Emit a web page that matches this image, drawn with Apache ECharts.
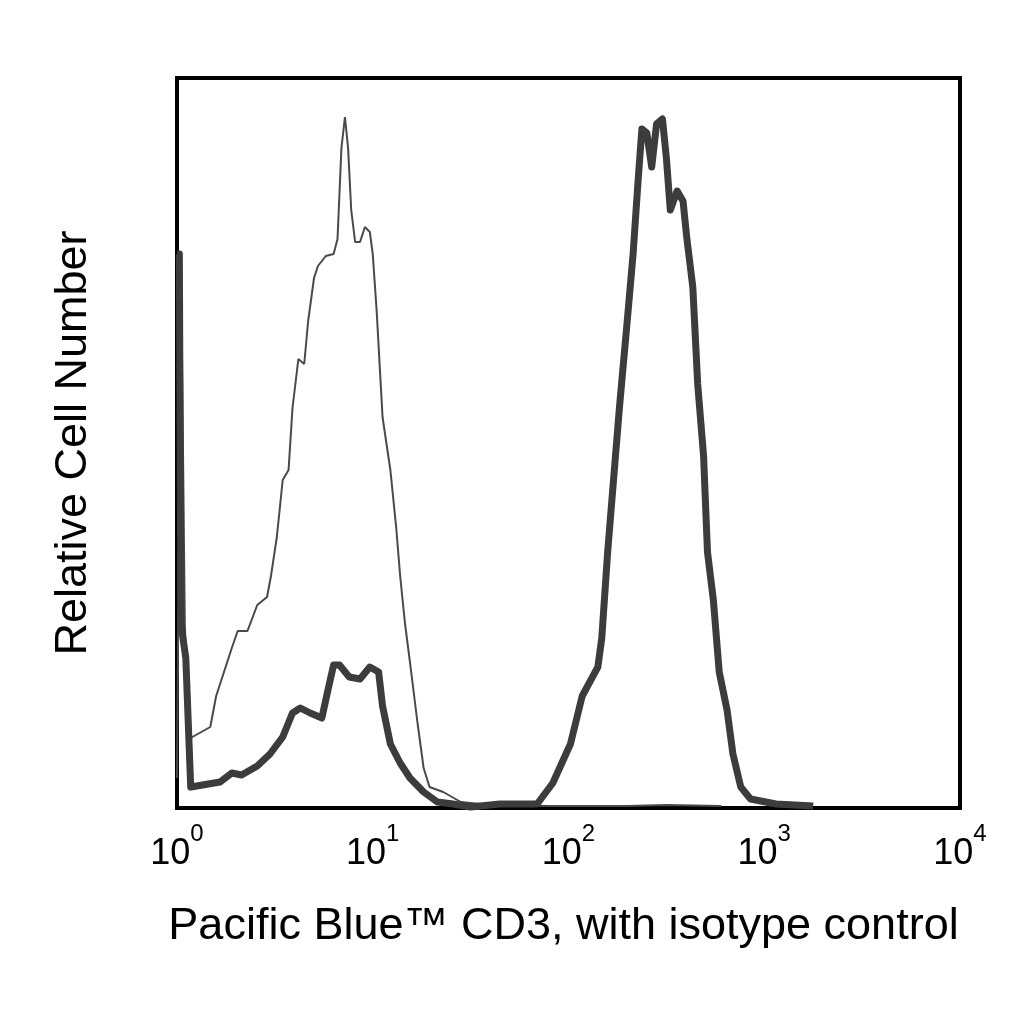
<!DOCTYPE html>
<html lang="en">
	<head>
		<meta charset="UTF-8">
		<title>CD3 histogram</title>
		<script src="https://cdn.jsdelivr.net/npm/echarts@6/dist/echarts.min.js"></script>
		<style type="text/css">
			html, body {
				margin: 0;
				padding: 0;
				background-color: #fff;
			}
			#main {
				width: 1024px;
				height: 1024px;
			}
		</style>
	</head>
	<body>
		<div id="main"></div>
	</body>
	<script type="text/javascript">
		// isotype control (thin line): log10 of intensity and relative count
		var isoLogX = [0.00, 0.02, 0.04, 0.06, 0.17, 0.20, 0.28, 0.31, 0.36, 0.41, 0.46, 0.48, 0.51, 0.54, 0.57, 0.59, 0.62, 0.65, 0.67, 0.70, 0.72, 0.76, 0.80, 0.82, 0.84, 0.858, 0.874, 0.89, 0.91, 0.935, 0.96, 0.985, 1.00, 1.02, 1.05, 1.09, 1.12, 1.14, 1.165, 1.19, 1.23, 1.26, 1.29, 1.36, 1.45, 1.60, 1.90, 2.30, 2.50, 2.78];
		var isoCount = [30, 554, 184, 69, 81, 112, 160, 177, 177, 203, 211, 232, 271, 328, 338, 400, 449, 444, 487, 530, 542, 552, 554, 569, 660, 691, 660, 598, 566, 566, 581, 576, 554, 497, 391, 338, 280, 232, 184, 146, 83, 40, 21, 16, 6, 3, 2, 2, 3, 2];
		// Pacific Blue CD3 (thick line)
		var cd3LogX = [0.00, 0.012, 0.02, 0.045, 0.07, 0.13, 0.22, 0.28, 0.33, 0.41, 0.475, 0.54, 0.59, 0.63, 0.68, 0.74, 0.77, 0.80, 0.83, 0.88, 0.935, 0.985, 1.03, 1.05, 1.09, 1.14, 1.19, 1.26, 1.33, 1.41, 1.50, 1.65, 1.84, 1.92, 2.01, 2.07, 2.15, 2.17, 2.20, 2.23, 2.26, 2.30, 2.33, 2.355, 2.375, 2.40, 2.425, 2.45, 2.48, 2.50, 2.52, 2.555, 2.585, 2.605, 2.635, 2.66, 2.69, 2.71, 2.74, 2.77, 2.81, 2.84, 2.88, 2.93, 3.06, 3.25];
		var cd3Count = [554, 554, 184, 150, 21, 23, 26, 35, 33, 42, 54, 71, 95, 100, 95, 90, 117, 143, 143, 131, 129, 141, 136, 102, 64, 45, 30, 16, 6, 4, 1, 4, 4, 25, 64, 112, 141, 170, 256, 328, 400, 487, 554, 626, 679, 675, 641, 684, 689, 650, 598, 617, 607, 569, 521, 424, 352, 256, 208, 136, 98, 54, 21, 9, 4, 2];
		var tickExponents = [0, 1, 2, 3, 4];

		function toPoints(logX, count) {
			var pts = [];
			for (var i = 0; i < logX.length; i++) {
				pts.push([Math.pow(10, logX[i]), count[i]]);
			}
			return pts;
		}

		var chart = echarts.init(document.getElementById('main'));
		var option = {
			animation: false,
			backgroundColor: '#fff',
			grid: {
				left: 177,
				right: 64,
				top: 78,
				bottom: 216,
				show: true,
				borderColor: '#000',
				borderWidth: 4
			},
			xAxis: {
				type: 'log',
				logBase: 10,
				min: 1,
				max: 10000,
				name: 'Pacific Blue\u2122 CD3, with isotype control',
				nameLocation: 'middle',
				nameGap: 96,
				nameTextStyle: {
					color: '#000',
					fontFamily: 'Liberation Sans',
					fontSize: 45,
					padding: [0, 10, 0, 0]
				},
				axisLine: { show: false },
				axisTick: { show: false },
				splitLine: { show: false },
				minorTick: { show: false },
				axisLabel: {
					margin: 14,
					fontSize: 36,
					fontFamily: 'Liberation Sans',
					color: '#000',
					formatter: function (v) {
						var e = Math.round(Math.log10(v));
						if (tickExponents.indexOf(e) < 0) return '';
						return '{base|10}{sup|' + e + '}';
					},
					rich: {
						// taller box for the base so the exponent sits above it
						base: {
							fontFamily: 'Liberation Sans',
							fontSize: 36,
							color: '#000',
							verticalAlign: 'bottom',
							lineHeight: 50
						},
						sup: {
							fontFamily: 'Liberation Sans',
							fontSize: 24,
							color: '#000',
							verticalAlign: 'top',
							lineHeight: 24
						}
					}
				}
			},
			yAxis: {
				type: 'value',
				min: 0,
				max: 730,
				name: 'Relative Cell Number',
				nameLocation: 'middle',
				nameGap: 81,
				nameTextStyle: {
					color: '#000',
					fontFamily: 'Liberation Sans',
					fontSize: 45
				},
				axisLine: { show: false },
				axisTick: { show: false },
				axisLabel: { show: false },
				splitLine: { show: false }
			},
			series: [
				{
					name: 'Isotype control',
					type: 'line',
					symbol: 'none',
					data: toPoints(isoLogX, isoCount),
					lineStyle: {
						color: '#4a4a4a',
						width: 2
					},
					z: 2
				},
				{
					name: 'CD3',
					type: 'line',
					symbol: 'none',
					data: toPoints(cd3LogX, cd3Count),
					lineStyle: {
						color: '#3c3c3c',
						width: 7,
						join: 'round'
					},
					z: 3
				}
			]
		};
		chart.setOption(option);
	</script>
</html>
